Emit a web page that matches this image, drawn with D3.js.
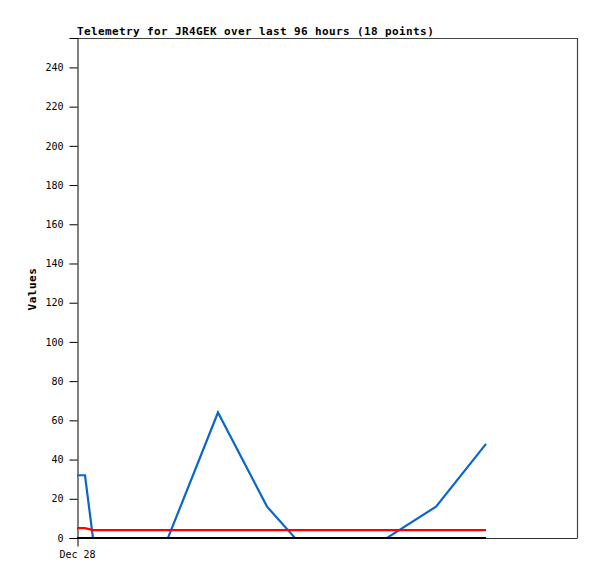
<!DOCTYPE html>
<html>
<head>
<meta charset="utf-8">
<script src="https://cdn.jsdelivr.net/npm/d3@7"></script>
<style>
  body { margin: 0; background: #fff; }
  svg { display: block; }
</style>
</head>
<body>
<div id="chart"></div>
<script>
var times = ['2023-12-28T00:00', '2023-12-28T01:32', '2023-12-28T03:04', '2023-12-28T17:28',
  '2023-12-29T03:04', '2023-12-29T12:29', '2023-12-29T17:51', '2023-12-30T11:31',
  '2023-12-30T20:56', '2023-12-31T06:32']
var blueValues = [32, 32, 0, 0, 64, 16, 0, 0, 16, 48]
var redValues = [5, 5, 4, 4, 4, 4, 4, 4, 4, 4]
var blackValues = [0, 0, 0, 0, 0, 0, 0, 0, 0, 0]
var yTicks = [0, 20, 40, 60, 80, 100, 120, 140, 160, 180, 200, 220, 240]
var xTickLabels = ['2023-12-28T00:00']
var title = 'Telemetry for JR4GEK over last 96 hours (18 points)'

var width = 500, height = 500
var margin = {top: 38, left: 77}
var parseTime = d3.timeParse('%Y-%m-%dT%H:%M')

var svg = d3.select('#chart')
  .append('svg')
    .attr('width', 597)
    .attr('height', 579)

var g = svg.append('g').attr('transform', 'translate(' + margin.left + ',' + margin.top + ')')

var start = parseTime(times[0])
var x = d3.scaleTime()
  .domain([start, d3.timeHour.offset(start, 96)])
  .range([0, width])
var y = d3.scaleLinear().domain([0, 255]).range([height, 0])

// frame (top + right)
g.append('path')
  .attr('d', 'M0,0.5H' + (width + 0.5) + 'V' + height)
  .attr('fill', 'none')
  .attr('stroke', '#444')
  .attr('stroke-width', 1.2)

var yAxis = g.append('g')
    .attr('transform', 'translate(0.5,0)')
    .call(d3.axisLeft(y).tickValues(yTicks).tickSize(8).tickPadding(6))
yAxis.select('.domain').attr('stroke', '#000')
yAxis.selectAll('text')
    .style('font', '10px "DejaVu Sans Mono", monospace')
    .attr('fill', '#000')

var xAxis = g.append('g')
    .attr('transform', 'translate(0,' + (height + 0.5) + ')')
    .call(d3.axisBottom(x)
      .tickValues(xTickLabels.map(parseTime))
      .tickFormat(d3.timeFormat('%b %d'))
      .tickSize(8).tickPadding(4))
xAxis.select('.domain').attr('stroke', '#333').attr('d', 'M0.5,0H' + (width + 0.5))
xAxis.selectAll('line').attr('transform', 'translate(0.5,0)')
xAxis.selectAll('text')
    .style('font', '10px "DejaVu Sans Mono", monospace')
    .attr('fill', '#000')

var line = d3.line()
  .x(function(d) { return x(d.date) })
  .y(function(d) { return y(d.value) })

var series = [
  {name: 'blue', color: '#0a66cc', values: blueValues},
  {name: 'red', color: '#ff0000', values: redValues},
  {name: 'black', color: '#000000', values: blackValues}
]

g.selectAll('.series')
  .data(series)
  .enter().append('path')
    .attr('class', 'series')
    .attr('fill', 'none')
    .attr('stroke', function(d) { return d.color })
    .attr('stroke-width', 2.2)
    .attr('d', function(s) {
      return line(s.values.map(function(v, i) { return {date: parseTime(times[i]), value: v} }))
    })

// title
svg.append('text')
  .attr('x', margin.left)
  .attr('y', 35)
  .style('font', 'bold 11px "DejaVu Sans Mono", monospace')
  .style('letter-spacing', '0.38px')
  .text(title)

// y label
svg.append('text')
  .attr('transform', 'translate(36,289) rotate(-90)')
  .attr('text-anchor', 'middle')
  .style('font', 'bold 11px "DejaVu Sans Mono", monospace')
  .style('letter-spacing', '0.5px')
  .text('Values')
</script>
</body>
</html>
